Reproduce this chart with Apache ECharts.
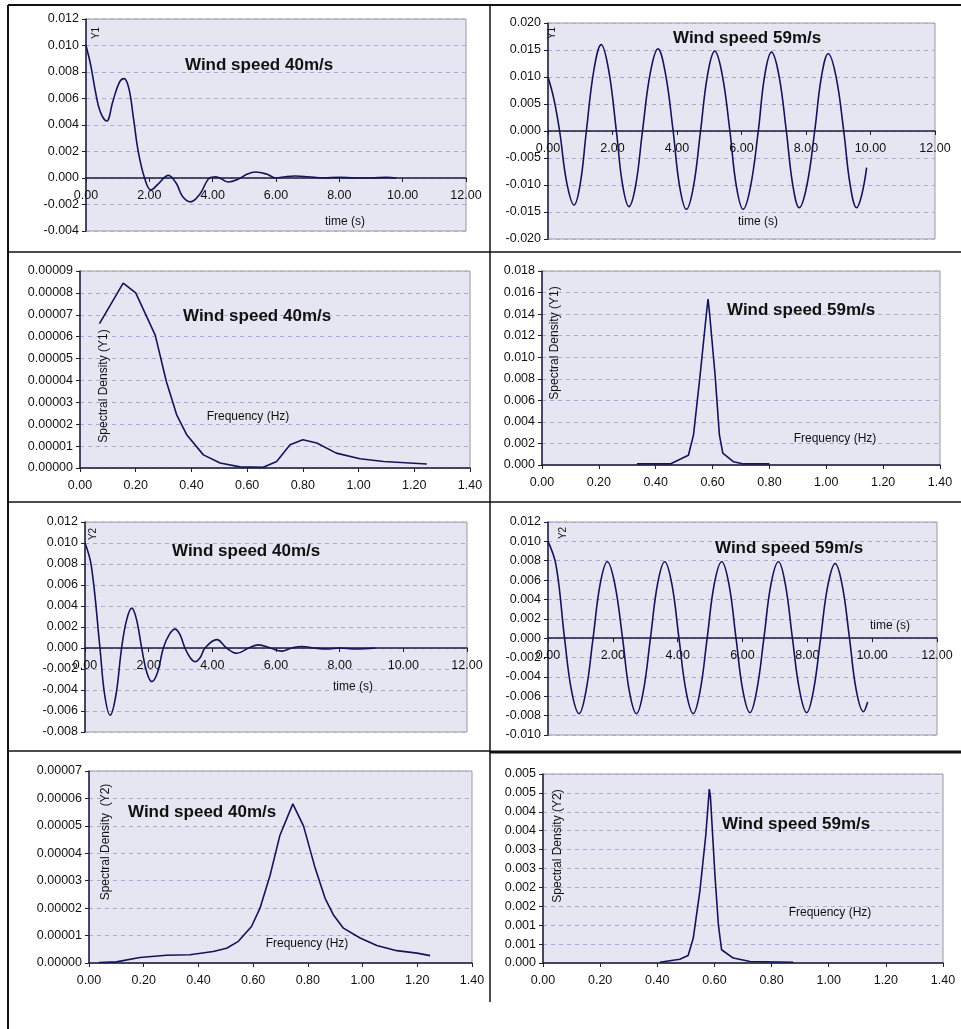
<!DOCTYPE html>
<html>
<head>
<meta charset="utf-8">
<script src="https://cdn.jsdelivr.net/npm/echarts@6/dist/echarts.min.js"></script>
<style>
  html, body { margin: 0; padding: 0; background: #fff; }
  #chart { width: 961px; height: 1029px; }
</style>
</head>
<body>
<div id="chart"></div>
<script>
// Y1 response, wind speed 40m/s
var t1a = [0, 0.15, 0.30, 0.45, 0.65, 0.85, 1.05, 1.20, 1.35, 1.50, 1.65, 1.85, 2.05, 2.30, 2.60, 2.85, 3.05, 3.30, 3.60, 3.90, 4.10, 4.50, 4.80, 5.10, 5.35, 5.70, 6.00, 6.30, 6.60, 7.00, 7.50, 8.00, 8.50, 9.00, 9.50, 9.80]
var y1a = [0.0100, 0.0085, 0.0065, 0.0050, 0.0043, 0.0058, 0.0072, 0.0075, 0.0068, 0.0045, 0.0020, 0.0000, -0.0009, -0.0004, 0.0002, -0.0004, -0.0014, -0.0018, -0.0012, 0.0000, 0.0001, -0.0003, -0.0001, 0.0003, 0.00045, 0.0003, 0.0000, 0.0001, 0.00015, 0.0001, 0.0000, 0.00005, 0.0000, 0.0000, 0.00005, 0.0000]
// Y1 response, wind speed 59m/s
var t1b = [0, 0.18, 0.36, 0.58, 0.81, 1.00, 1.19, 1.42, 1.65, 1.88, 2.12, 2.31, 2.51, 2.72, 2.93, 3.17, 3.41, 3.64, 3.88, 4.08, 4.29, 4.51, 4.73, 4.95, 5.17, 5.40, 5.64, 5.84, 6.05, 6.28, 6.52, 6.72, 6.93, 7.16, 7.39, 7.59, 7.79, 8.03, 8.27, 8.48, 8.69, 8.93, 9.17, 9.37, 9.57, 9.73, 9.88]
var y1b = [0.0100, 0.0060, 0, -0.0095, -0.0137, -0.0098, 0, 0.0112, 0.0160, 0.0113, 0, -0.0099, -0.0140, -0.0100, 0, 0.0107, 0.0152, 0.0107, 0, -0.0102, -0.0145, -0.0103, 0, 0.0105, 0.0148, 0.0105, 0, -0.0102, -0.0145, -0.0103, 0, 0.0103, 0.0146, 0.0103, 0, -0.0100, -0.0142, -0.0100, 0, 0.0101, 0.0143, 0.0101, 0, -0.0100, -0.0142, -0.0118, -0.0068]
// spectral density Y1, 40m/s
var f1a = [0.07, 0.155, 0.20, 0.27, 0.31, 0.347, 0.383, 0.443, 0.503, 0.574, 0.658, 0.706, 0.754, 0.80, 0.85, 0.92, 1.005, 1.09, 1.245]
var s1a = [6.6e-5, 8.45e-5, 8.0e-5, 6.07e-5, 3.95e-5, 2.43e-5, 1.52e-5, 6.0e-6, 2.3e-6, 5e-7, 3e-7, 3e-6, 1.06e-5, 1.29e-5, 1.14e-5, 6.8e-6, 4.2e-6, 3.0e-6, 1.8e-6]
// spectral density Y1, 59m/s
var f1b = [0.334, 0.451, 0.515, 0.533, 0.556, 0.575, 0.584, 0.589, 0.609, 0.624, 0.636, 0.674, 0.709, 0.80]
var s1b = [0.0001, 0.0001, 0.0009, 0.0028, 0.0083, 0.0132, 0.0154, 0.0142, 0.0083, 0.0028, 0.0011, 0.0003, 0.0001, 0.0001]
// Y2 response, 40m/s
var t2a = [0, 0.20, 0.47, 0.62, 0.79, 0.97, 1.15, 1.31, 1.47, 1.62, 1.78, 1.94, 2.10, 2.28, 2.46, 2.65, 2.83, 2.98, 3.14, 3.30, 3.46, 3.62, 3.77, 4.14, 4.45, 4.77, 5.14, 5.45, 5.82, 6.18, 6.50, 6.81, 7.20, 7.60, 8.00, 8.50, 9.12]
var y2a = [0.0100, 0.0078, 0, -0.0045, -0.0064, -0.0045, 0, 0.0027, 0.0038, 0.0027, 0, -0.0023, -0.0032, -0.0023, 0, 0.0013, 0.0018, 0.0013, 0, -0.0009, -0.0013, -0.0009, 0, 0.0008, 0, -0.0005, 0, 0.0003, 0, -0.0003, 0, 0.00015, 0, -0.0001, 0, -0.0001, 0]
// Y2 response, 59m/s
var t2b = [0, 0.25, 0.51, 0.73, 0.96, 1.17, 1.39, 1.61, 1.83, 2.06, 2.30, 2.51, 2.73, 2.94, 3.16, 3.38, 3.60, 3.82, 4.04, 4.26, 4.48, 4.69, 4.91, 5.13, 5.36, 5.58, 5.80, 6.01, 6.23, 6.44, 6.66, 6.88, 7.11, 7.32, 7.54, 7.76, 7.98, 8.19, 8.41, 8.63, 8.86, 9.08, 9.30, 9.51, 9.73, 9.86]
var y2b = [0.0100, 0.0075, 0, -0.0055, -0.0078, -0.0055, 0, 0.0056, 0.0079, 0.0056, 0, -0.0055, -0.0078, -0.0055, 0, 0.0056, 0.0079, 0.0056, 0, -0.0055, -0.0078, -0.0055, 0, 0.0056, 0.0079, 0.0056, 0, -0.0054, -0.0077, -0.0054, 0, 0.0056, 0.0079, 0.0056, 0, -0.0054, -0.0077, -0.0054, 0, 0.0054, 0.0077, 0.0054, 0, -0.0054, -0.0076, -0.0066]
// spectral density Y2, 40m/s
var f2a = [0.037, 0.10, 0.186, 0.283, 0.369, 0.454, 0.503, 0.546, 0.594, 0.625, 0.662, 0.698, 0.745, 0.784, 0.827, 0.863, 0.893, 0.93, 0.991, 1.052, 1.125, 1.199, 1.247]
var s2a = [2e-7, 4e-7, 2.0e-6, 2.8e-6, 3.0e-6, 4.2e-6, 5.4e-6, 7.9e-6, 1.33e-5, 2.0e-5, 3.2e-5, 4.66e-5, 5.8e-5, 5.0e-5, 3.45e-5, 2.36e-5, 1.76e-5, 1.27e-5, 9.1e-6, 6.4e-6, 4.5e-6, 3.6e-6, 2.7e-6]
// spectral density Y2, 59m/s
var f2b = [0.409, 0.479, 0.508, 0.526, 0.549, 0.570, 0.582, 0.586, 0.602, 0.614, 0.625, 0.666, 0.725, 0.876]
var s2b = [0.00002, 0.0001, 0.0002, 0.00066, 0.0019, 0.0034, 0.0046, 0.0044, 0.0023, 0.0010, 0.00035, 0.00013, 0.00004, 0.00002]

var FONT = 'Liberation Sans, Arial, sans-serif'
var LINE = '#14145a'

function zip(xs, ys) {
  return xs.map(function (x, i) { return [x, ys[i]] })
}
function fixed(d) {
  return function (v) {
    if (Math.abs(v) < 1e-12) v = 0
    return v.toFixed(d)
  }
}
// excel style rounding (half up) for the 0.0005 step axis
function halfUp3(v) {
  if (Math.abs(v) < 1e-12) v = 0
  return (Math.floor(v * 1000 + 0.5 + 1e-6) / 1000).toFixed(3)
}

var panels = [
  { grid: [86, 19, 380, 212], x: [0, 12, 2], y: [-0.004, 0.012, 0.002], yFmt: fixed(3), data: zip(t1a, y1a), smooth: true },
  { grid: [548, 23, 387, 216], x: [0, 12, 2], y: [-0.02, 0.02, 0.005], yFmt: fixed(3), data: zip(t1b, y1b), smooth: true },
  { grid: [80, 271, 390, 197], x: [0, 1.4, 0.2], y: [0, 0.00009, 0.00001], yFmt: fixed(5), data: zip(f1a, s1a), smooth: false },
  { grid: [542, 271, 398, 194], x: [0, 1.4, 0.2], y: [0, 0.018, 0.002], yFmt: fixed(3), data: zip(f1b, s1b), smooth: false },
  { grid: [85, 522, 382, 210], x: [0, 12, 2], y: [-0.008, 0.012, 0.002], yFmt: fixed(3), data: zip(t2a, y2a), smooth: true },
  { grid: [548, 522, 389, 213], x: [0, 12, 2], y: [-0.010, 0.012, 0.002], yFmt: fixed(3), data: zip(t2b, y2b), smooth: true },
  { grid: [89, 771, 383, 192], x: [0, 1.4, 0.2], y: [0, 0.00007, 0.00001], yFmt: fixed(5), data: zip(f2a, s2a), smooth: false },
  { grid: [543, 774, 400, 189], x: [0, 1.4, 0.2], y: [0, 0.005, 0.0005], yFmt: halfUp3, data: zip(f2b, s2b), smooth: false }
]

var grids = [], xAxes = [], yAxes = [], series = []
panels.forEach(function (p, i) {
  // x axis sits on y = 0, labels just under it (excel "next to axis")
  var lift = -p.grid[3] * (0 - p.y[0]) / (p.y[1] - p.y[0])
  grids.push({
    left: p.grid[0], top: p.grid[1], width: p.grid[2], height: p.grid[3],
    show: true, backgroundColor: '#e6e6f3', borderColor: '#9a9a9a', borderWidth: 1
  })
  xAxes.push({
    type: 'value', gridIndex: i, min: p.x[0], max: p.x[1], interval: p.x[2],
    position: 'bottom', offset: lift,
    axisLine: { onZero: false, lineStyle: { color: '#1c1c3c', width: 1.5 } },
    axisTick: { show: true, length: 4, lineStyle: { color: '#1c1c3c' } },
    axisLabel: { color: '#111', fontSize: 12.5, fontFamily: FONT, margin: 11, formatter: fixed(2) },
    splitLine: { show: false }
  })
  yAxes.push({
    type: 'value', gridIndex: i, min: p.y[0], max: p.y[1], interval: p.y[2],
    axisLine: { show: true, onZero: false, lineStyle: { color: '#1c1c3c', width: 1.5 } },
    axisTick: { show: true, length: 4, lineStyle: { color: '#1c1c3c' } },
    axisLabel: { color: '#111', fontSize: 12.5, fontFamily: FONT, margin: 7, formatter: p.yFmt },
    splitLine: { show: true, lineStyle: { color: '#b4a6d6', type: [4, 4], width: 1 } }
  })
  series.push({
    type: 'line', xAxisIndex: i, yAxisIndex: i, data: p.data,
    smooth: p.smooth ? 0.4 : false, showSymbol: false,
    lineStyle: { color: LINE, width: 1.6 }
  })
})

function txt(x, y, s, opt) {
  opt = opt || {}
  return {
    type: 'text', x: x, y: y, rotation: opt.rot || 0, z: 100,
    style: {
      text: s, fill: opt.color || '#111',
      font: (opt.bold ? 'bold ' : '') + (opt.size || 12) + 'px ' + FONT,
      align: opt.align || 'center', verticalAlign: 'middle'
    }
  }
}
function hline(x1, x2, y, w) {
  return { type: 'line', z: 100, shape: { x1: x1, y1: y, x2: x2, y2: y }, style: { stroke: '#111', lineWidth: w || 2 } }
}
function vline(x, y1, y2, w) {
  return { type: 'line', z: 100, shape: { x1: x, y1: y1, x2: x, y2: y2 }, style: { stroke: '#111', lineWidth: w || 2 } }
}

var title = { bold: true, size: 17, align: 'left' }
var vert = { rot: Math.PI / 2 }
var graphics = [
  // frame
  hline(8, 961, 5, 2), vline(8, 5, 1029, 2), vline(490, 5, 1002, 1.5),
  hline(8, 961, 252, 1.5), hline(8, 961, 502, 1.5), hline(8, 490, 751, 1.5), hline(490, 961, 752, 3),
  // titles
  txt(185, 65, 'Wind speed 40m/s', title),
  txt(673, 38, 'Wind speed 59m/s', title),
  txt(183, 316, 'Wind speed 40m/s', title),
  txt(727, 310, 'Wind speed 59m/s', title),
  txt(172, 551, 'Wind speed 40m/s', title),
  txt(715, 548, 'Wind speed 59m/s', title),
  txt(128, 812, 'Wind speed 40m/s', title),
  txt(722, 824, 'Wind speed 59m/s', title),
  // axis captions
  txt(96, 33, 'Y1', { rot: Math.PI / 2, size: 10 }),
  txt(552, 33, 'Y1', { rot: Math.PI / 2, size: 10 }),
  txt(93, 534, 'Y2', { rot: Math.PI / 2, size: 10 }),
  txt(563, 533, 'Y2', { rot: Math.PI / 2, size: 10 }),
  txt(345, 222, 'time (s)'),
  txt(758, 222, 'time (s)'),
  txt(353, 687, 'time (s)'),
  txt(890, 626, 'time (s)'),
  txt(248, 417, 'Frequency (Hz)'),
  txt(835, 439, 'Frequency (Hz)'),
  txt(307, 944, 'Frequency (Hz)'),
  txt(830, 913, 'Frequency (Hz)'),
  txt(104, 386, 'Spectral Density (Y1)', vert),
  txt(555, 343, 'Spectral Density (Y1)', vert),
  txt(106, 842, 'Spectral Density  (Y2)', vert),
  txt(558, 846, 'Spectral Density (Y2)', vert)
]

var chart = echarts.init(document.getElementById('chart'))
chart.setOption({
  animation: false,
  backgroundColor: '#fff',
  grid: grids,
  xAxis: xAxes,
  yAxis: yAxes,
  series: series,
  graphic: graphics
})
</script>
</body>
</html>
